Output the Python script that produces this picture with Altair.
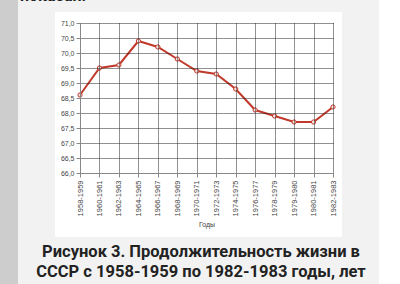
import altair as alt
import pandas as pd

periods = ["1958-1959", "1960-1961", "1962-1963", "1964-1965", "1966-1967",
           "1968-1969", "1970-1971", "1972-1973", "1974-1975", "1976-1977",
           "1978-1979", "1979-1980", "1980-1981", "1982-1983"]
life_exp = [68.6, 69.5, 69.6, 70.4, 70.2, 69.8, 69.4, 69.3, 68.8, 68.1,
            67.9, 67.7, 67.7, 68.2]
y_ticks = [66.0, 66.5, 67.0, 67.5, 68.0, 68.5, 69.0, 69.5, 70.0, 70.5, 71.0]
caption1 = "Рисунок 3. Продолжительность жизни в"
caption2 = "СССР с 1958-1959 по 1982-1983 годы, лет"
top_text = "показан."
x_title = "Годы"

df = pd.DataFrame({"period": periods, "value": life_exp})

# plot area placement in the 400x284 page
L, T, W, H = 80, 23, 253, 150

def px(a):
    return a - L

def py(a):
    return a - T

one = pd.DataFrame({"k": [0]})

bg_left = alt.Chart(one).mark_rect(color="#cdcdcd").encode(
    x=alt.value(px(0)), x2=alt.value(px(18)), y=alt.value(py(0)), y2=alt.value(py(284)))
bg_right = alt.Chart(one).mark_rect(color="#ffffff").encode(
    x=alt.value(px(379)), x2=alt.value(px(400)), y=alt.value(py(0)), y2=alt.value(py(284)))
bg_card = alt.Chart(one).mark_rect(color="#ffffff").encode(
    x=alt.value(px(55)), x2=alt.value(px(342)), y=alt.value(py(12)), y2=alt.value(py(237)))

xenc = alt.X("period:O", sort=periods, scale=alt.Scale(domain=periods, padding=0),
             axis=alt.Axis(title=x_title, labelAngle=270, labelFontSize=7.5,
                           labelColor="#444", labelFont="Liberation Sans",
                           titleFontSize=7, titleFontWeight="normal", titleColor="#444",
                           titleFont="Liberation Sans", titleY=51, titleBaseline="middle",
                           grid=True, gridDash=[1, 1], gridColor="#222", gridOpacity=1,
                           domainColor="#888", tickColor="#888", tickSize=4,
                           labelPadding=3, zindex=1, labelOverlap=False))
yenc = alt.Y("value:Q", scale=alt.Scale(domain=[66, 71], nice=False, zero=False),
             axis=alt.Axis(title=None, values=y_ticks, labelFontSize=7,
                           labelColor="#444", labelFont="Liberation Sans",
                           labelExpr="replace(format(datum.value, '.1f'), '.', ',')",
                           grid=True, gridDash=[1, 1], gridColor="#222", gridOpacity=1,
                           domainColor="#888", tickColor="#888", tickSize=4,
                           labelPadding=2, zindex=1, labelOverlap=False))

line = alt.Chart(df).mark_line(color="#c0392b", strokeWidth=2).encode(x=xenc, y=yenc)
pts = alt.Chart(df).mark_point(shape="circle", filled=True, fill="#fbe3e3",
                               stroke="#c0392b", strokeWidth=1, size=18,
                               opacity=1).encode(x=xenc, y=yenc)

cap1 = alt.Chart(one).mark_text(text=caption1, font="Roboto", fontSize=16.5,
                                fontWeight="bold", color="#222", align="center",
                                baseline="middle").encode(
    x=alt.value(px(201)), y=alt.value(py(252)))
cap2 = alt.Chart(one).mark_text(text=caption2, font="Roboto", fontSize=16.5,
                                fontWeight="bold", color="#222", align="center",
                                baseline="middle").encode(
    x=alt.value(px(201)), y=alt.value(py(272)))
top = alt.Chart(one).mark_text(text=top_text, font="Roboto", fontSize=16,
                               fontWeight="bold", color="#222", align="left",
                               baseline="alphabetic").encode(
    x=alt.value(px(20)), y=alt.value(py(1)))

chart = alt.layer(bg_left, bg_right, bg_card, top, line, pts, cap1, cap2).properties(
    width=W, height=H,
    padding={"left": L, "top": T, "right": 400 - L - W, "bottom": 284 - T - H},
    autosize=alt.AutoSizeParams(type="none"),
    background="#f2f2f2",
).configure_view(stroke=None)

chart.save("out.html", embed_options={"renderer": "svg", "actions": False})
